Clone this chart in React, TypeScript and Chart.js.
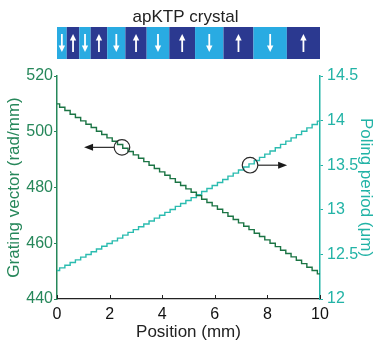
import React, { useEffect, useRef } from 'react';
import { Chart, registerables } from 'chart.js';

Chart.register(...registerables);

// ---------- data ----------
const positions = [
  0, 0.2, 0.4, 0.6, 0.8, 1.0, 1.2, 1.4, 1.6, 1.8, 2.0,
  2.2, 2.4, 2.6, 2.8, 3.0, 3.2, 3.4, 3.6, 3.8, 4.0,
  4.2, 4.4, 4.6, 4.8, 5.0, 5.2, 5.4, 5.6, 5.8, 6.0,
  6.2, 6.4, 6.6, 6.8, 7.0, 7.2, 7.4, 7.6, 7.8, 8.0,
  8.2, 8.4, 8.6, 8.8, 9.0, 9.2, 9.4, 9.6, 9.8, 10.0,
];

const gratingVector = [
  510, 508.8, 507.6, 506.3, 505.1, 503.9, 502.7, 501.5, 500.2, 499.0, 497.8,
  496.6, 495.4, 494.1, 492.9, 491.7, 490.5, 489.3, 488.0, 486.8, 485.6,
  484.4, 483.2, 481.9, 480.7, 479.5, 478.3, 477.1, 475.8, 474.6, 473.4,
  472.2, 471.0, 469.7, 468.5, 467.3, 466.1, 464.9, 463.6, 462.4, 461.2,
  460.0, 458.8, 457.5, 456.3, 455.1, 453.9, 452.7, 451.4, 450.2, 449.0,
];

const polingPeriod = [
  12.320, 12.349, 12.378, 12.410, 12.439, 12.469, 12.499, 12.529, 12.561, 12.591, 12.622,
  12.652, 12.683, 12.716, 12.747, 12.778, 12.810, 12.841, 12.875, 12.907, 12.939,
  12.971, 13.003, 13.038, 13.071, 13.104, 13.136, 13.169, 13.205, 13.239, 13.272,
  13.306, 13.340, 13.377, 13.411, 13.446, 13.480, 13.515, 13.553, 13.588, 13.624,
  13.659, 13.695, 13.734, 13.770, 13.806, 13.843, 13.880, 13.919, 13.956, 13.994,
];

// crystal domain boundaries (mm) and polarisation direction of each domain
const domainBounds = [0, 0.37, 0.85, 1.28, 1.91, 2.6, 3.41, 4.27, 5.25, 6.33, 7.47, 8.74, 10];
const domainDirs = ['down', 'up', 'down', 'up', 'down', 'up', 'down', 'up', 'down', 'up', 'down', 'up'];

// annotation markers: x (mm), y value, axis, arrow tip x (mm)
const markerX = [2.47, 7.34];
const markerY = [494.4, 13.5];
const markerAxis = ['y', 'y1'];
const arrowTipX = [1.03, 8.75];

const xTicksStep = 2;
const leftTicksStep = 20;
const rightTicksStep = 0.5;

const crystalTitle = 'apKTP crystal';

// ---------- styles ----------
const FONT = '"Liberation Sans", Arial, Helvetica, sans-serif';
const GREEN_TEXT = '#26875a';
const GREEN_LINE = '#1b7444';
const CYAN_TEXT = '#22b3a6';
const CYAN_LINE = '#2bbcb0';
const LIGHT_BLUE = '#29abe2';
const DARK_BLUE = '#2b3990';

function drawArrowHead(ctx: CanvasRenderingContext2D, tipX: number, tipY: number, dx: number, dy: number, len: number, half: number) {
  const bx = tipX - dx * len;
  const by = tipY - dy * len;
  const px = -dy;
  const py = dx;
  ctx.beginPath();
  ctx.moveTo(tipX, tipY);
  ctx.lineTo(bx + px * half, by + py * half);
  ctx.lineTo(bx - px * half, by - py * half);
  ctx.closePath();
  ctx.fill();
}

const overlayPlugin = {
  id: 'overlay',
  afterDraw(chart: any) {
    const { ctx, chartArea, scales } = chart;
    const x = scales.x;
    ctx.save();

    // inward x ticks
    ctx.strokeStyle = '#222';
    ctx.lineWidth = 1;
    x.ticks.forEach((t: any) => {
      const px = Math.round(x.getPixelForValue(t.value)) + 0.5;
      ctx.beginPath();
      ctx.moveTo(px, chartArea.bottom);
      ctx.lineTo(px, chartArea.bottom - 4);
      ctx.stroke();
    });

    // crystal title
    const cx = (chartArea.left + chartArea.right) / 2 - 3;
    ctx.fillStyle = '#222';
    ctx.font = `17px ${FONT}`;
    ctx.textAlign = 'center';
    ctx.textBaseline = 'alphabetic';
    ctx.fillText(crystalTitle, cx, 21.5);

    // crystal domains
    const barTop = 27;
    const barBottom = 59;
    for (let i = 0; i < domainDirs.length; i++) {
      const x0 = x.getPixelForValue(domainBounds[i]);
      const x1 = x.getPixelForValue(domainBounds[i + 1]);
      ctx.fillStyle = domainDirs[i] === 'up' ? DARK_BLUE : LIGHT_BLUE;
      ctx.fillRect(x0, barTop, x1 - x0, barBottom - barTop);
      const mx = (x0 + x1) / 2;
      const top = barTop + 7;
      const bot = barBottom - 7;
      ctx.strokeStyle = '#ffffff';
      ctx.fillStyle = '#ffffff';
      ctx.lineWidth = 1.8;
      ctx.beginPath();
      if (domainDirs[i] === 'up') {
        ctx.moveTo(mx, bot);
        ctx.lineTo(mx, top + 5);
        ctx.stroke();
        drawArrowHead(ctx, mx, top, 0, -1, 6.5, 3.2);
      } else {
        ctx.moveTo(mx, top);
        ctx.lineTo(mx, bot - 5);
        ctx.stroke();
        drawArrowHead(ctx, mx, bot, 0, 1, 6.5, 3.2);
      }
    }

    // circle markers with arrows
    const r = 7.8;
    for (let i = 0; i < markerX.length; i++) {
      const sc = scales[markerAxis[i]];
      const px = x.getPixelForValue(markerX[i]);
      const py = sc.getPixelForValue(markerY[i]);
      const tip = x.getPixelForValue(arrowTipX[i]);
      ctx.strokeStyle = '#2a2a2a';
      ctx.fillStyle = '#1a1a1a';
      ctx.lineWidth = 1.2;
      ctx.beginPath();
      ctx.arc(px, py, r, 0, Math.PI * 2);
      ctx.stroke();
      const dir = tip < px ? -1 : 1;
      ctx.beginPath();
      ctx.moveTo(px + dir * r, py);
      ctx.lineTo(tip - dir * 6, py);
      ctx.stroke();
      drawArrowHead(ctx, tip, py, dir, 0, 9, 3.5);
    }

    ctx.restore();
  },
};

export default function App() {
  const ref = useRef<HTMLCanvasElement | null>(null);

  useEffect(() => {
    if (!ref.current) return;
    const chart = new Chart(ref.current, {
      type: 'line',
      data: {
        datasets: [
          {
            label: 'Grating vector',
            data: positions.map((p, i) => ({ x: p, y: gratingVector[i] })),
            yAxisID: 'y',
            borderColor: GREEN_LINE,
            borderWidth: 1.4,
            pointRadius: 0,
            stepped: 'middle',
            fill: false,
          },
          {
            label: 'Poling period',
            data: positions.map((p, i) => ({ x: p, y: polingPeriod[i] })),
            yAxisID: 'y1',
            borderColor: CYAN_LINE,
            borderWidth: 1.4,
            pointRadius: 0,
            stepped: 'middle',
            fill: false,
          },
        ],
      },
      options: {
        animation: false,
        responsive: true,
        maintainAspectRatio: false,
        layout: { padding: { top: 76, left: 0, right: 0, bottom: 0 } },
        plugins: {
          legend: { display: false },
          tooltip: { enabled: false },
          title: { display: false },
        },
        scales: {
          x: {
            type: 'linear',
            min: 0,
            max: 10,
            ticks: { stepSize: xTicksStep, color: '#111', font: { family: FONT, size: 16 }, padding: 6 },
            grid: { display: false, drawTicks: false },
            border: { display: true, color: '#222', width: 1.2 },
            title: {
              display: true,
              text: 'Position (mm)',
              color: '#222',
              font: { family: FONT, size: 17 },
              padding: { top: 0, bottom: 0 },
            },
            afterFit: (s: any) => { s.height = 44; },
          },
          y: {
            type: 'linear',
            position: 'left',
            min: 440,
            max: 520,
            ticks: { stepSize: leftTicksStep, color: GREEN_TEXT, font: { family: FONT, size: 16 }, padding: 1 },
            grid: { display: true, drawOnChartArea: false, drawTicks: true, tickLength: 3, color: GREEN_TEXT },
            border: { display: true, color: GREEN_TEXT, width: 1.5 },
            title: {
              display: true,
              text: 'Grating vector (rad/mm)',
              color: GREEN_TEXT,
              font: { family: FONT, size: 17 },
              padding: { top: 4, bottom: 0 },
            },
            afterFit: (s: any) => { s.width = 57; },
          },
          y1: {
            type: 'linear',
            position: 'right',
            min: 12,
            max: 14.5,
            ticks: {
              stepSize: rightTicksStep,
              color: CYAN_TEXT,
              font: { family: FONT, size: 16 },
              padding: 4,
              callback: (v: any) => `${Number(v)}`,
            },
            grid: { display: true, drawOnChartArea: false, drawTicks: true, tickLength: 3, color: CYAN_TEXT },
            border: { display: true, color: CYAN_TEXT, width: 1.5 },
            title: {
              display: true,
              text: 'Poling period (μm)',
              color: CYAN_TEXT,
              font: { family: FONT, size: 17 },
              padding: { top: 0, bottom: 0 },
            },
            afterFit: (s: any) => { s.width = 56; },
          },
        },
      },
      plugins: [overlayPlugin],
    } as any);
    return () => chart.destroy();
  }, []);

  return (
    <div style={{ position: 'fixed', left: 0, top: 0, width: 376, height: 343, background: '#fff' }}>
      <canvas ref={ref} />
    </div>
  );
}
